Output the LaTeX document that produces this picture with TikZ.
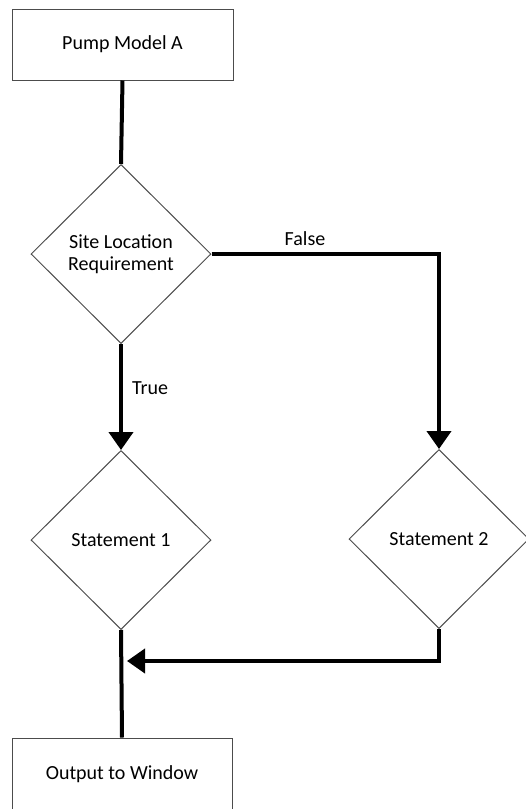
\documentclass[tikz,border=0pt]{standalone}
\usepackage{fontspec}
\setmainfont{Carlito}
\usetikzlibrary{shapes.geometric, arrows.meta}
\tikzset{
    box/.style={draw=black!70, line width=1pt, minimum width=221pt, minimum height=71pt, inner sep=0pt},
    decision/.style={diamond, draw=black!70, line width=1pt, minimum width=180pt, minimum height=179pt, inner sep=0pt, align=center},
    link/.style={line width=4pt},
    arrowlink/.style={line width=4pt, -{Triangle[length=18pt, width=24pt]}},
    linklabel/.style={inner sep=0pt}
}
\begin{document}
\begin{tikzpicture}[x=1pt, y=-1pt, font=\fontsize{20}{22}\selectfont]
        \useasboundingbox (0,0) rectangle (526,809);
        \fill[white] (0,0) rectangle (526,809);
        % shapes
        \node[box] (pump) at (122.5,44.5) {Pump Model A};
        \node[decision] (site) at (121,254) {Site Location\\Requirement};
        \node[decision] (stmtone) at (121,540) {Statement 1};
        \node[decision] (stmttwo) at (439,539) {Statement 2};
        \node[box, minimum width=220pt, minimum height=72pt] (output) at (122,774) {Output to Window};
        \coordinate (join) at (127,661);
        % connectors
        \draw[link] (pump.south) -- (site.north);
        \draw[arrowlink] (site.south) -- (stmtone.north);
        \draw[arrowlink] (site.east) -| (stmttwo.north);
        \draw[link] (stmtone.south) -- (output.north);
        \draw[arrowlink] (stmttwo.south) |- (join);
        % labels
        \node[linklabel] (truelabel) at (150,388) {True};
        \node[linklabel] (falselabel) at (305,239) {False};
    \end{tikzpicture}
\end{document}
